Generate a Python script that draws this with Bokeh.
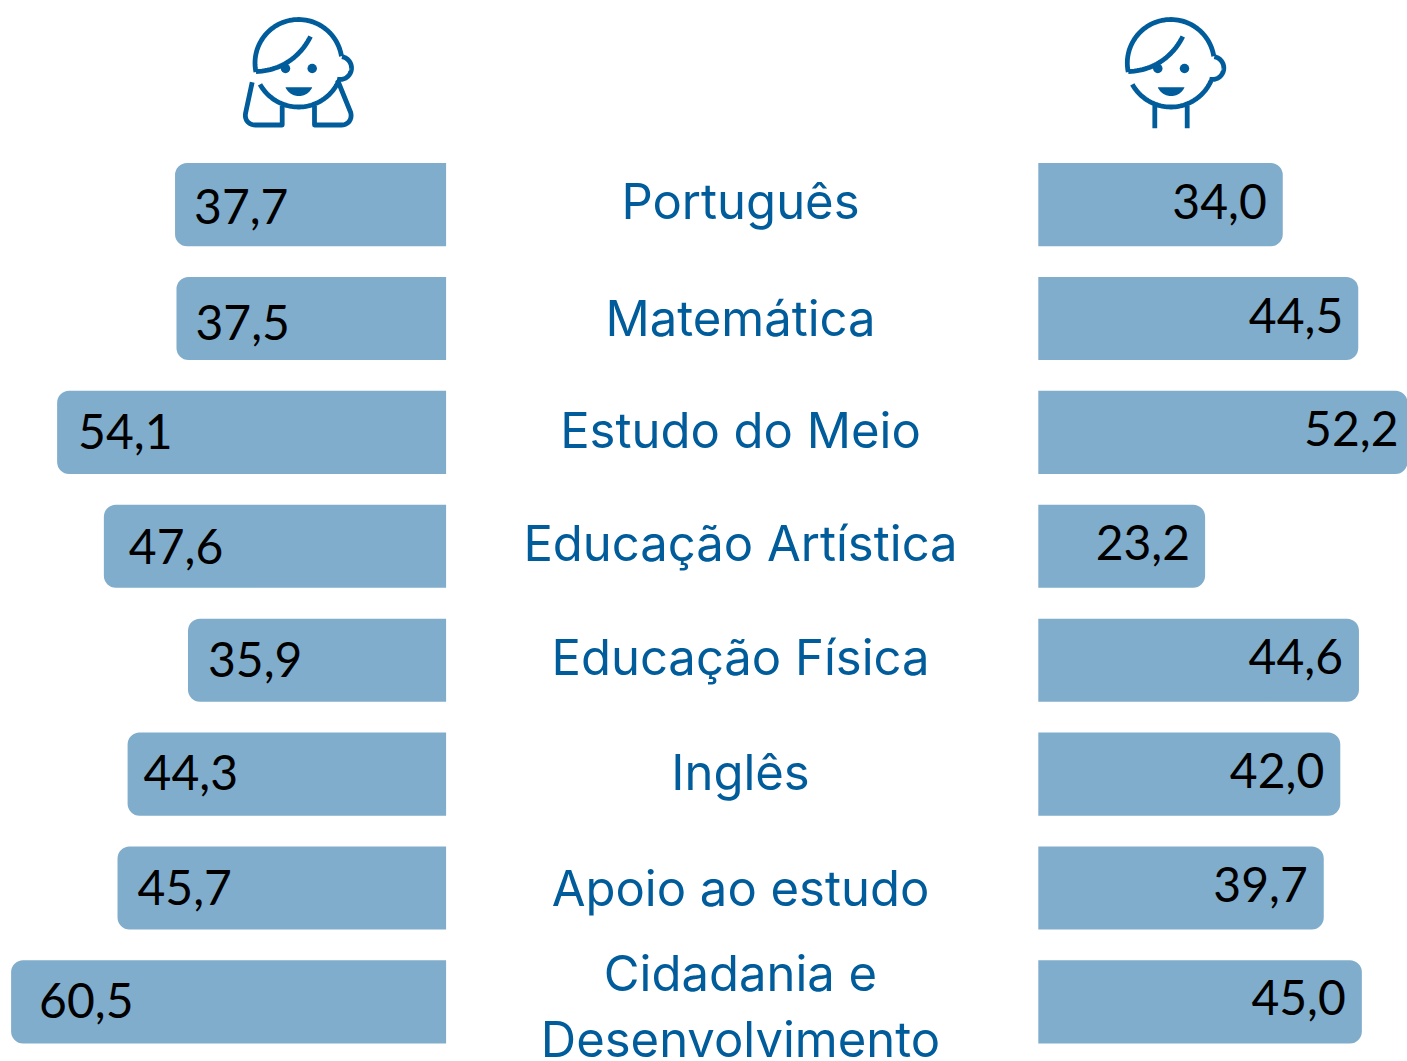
import numpy as np
from bokeh.plotting import figure
from bokeh.models import Range1d, ColumnDataSource
from bokeh.core.properties import value
from bokeh.embed import file_html
from bokeh.resources import INLINE

subjects = ["Português", "Matemática", "Estudo do Meio", "Educação Artística",
            "Educação Física", "Inglês", "Apoio ao estudo", "Cidadania e\nDesenvolvimento"]
girls = [37.7, 37.5, 54.1, 47.6, 35.9, 44.3, 45.7, 60.5]
boys = [34.0, 44.5, 52.2, 23.2, 44.6, 42.0, 39.7, 45.0]

# page geometry
W, H = 1407, 1061
ORIGIN = 0
BAR_COLOR = "#80ADCC"
BLUE = "#005C9A"
FONT = "Lato"
CAT_FONT = "Inter"
PX_PER_UNIT = 7.19
GIRL_ZERO, BOY_ZERO = 445.6, 1037.8
ROW0, ROW_STEP = 204.1, 113.9
BOY_DOMAIN_END = (1407 - BOY_ZERO) / PX_PER_UNIT
SHIFT = -18.5

p = figure(width=W, height=H, output_backend="svg", toolbar_location=None,
           x_range=Range1d(0, W), y_range=Range1d(H, 0),
           min_border=0, outline_line_color=None, background_fill_color="white")
p.xaxis.visible = False
p.yaxis.visible = False
p.grid.visible = False

p.extra_x_ranges = {
    "girls": Range1d((GIRL_ZERO - ORIGIN) / PX_PER_UNIT, (GIRL_ZERO - ORIGIN - W) / PX_PER_UNIT),
    "boys": Range1d((ORIGIN - BOY_ZERO) / PX_PER_UNIT, BOY_DOMAIN_END),
}
p.extra_y_ranges = {"rows": Range1d((ORIGIN + H - ROW0) / ROW_STEP, (ORIGIN - ROW0) / ROW_STEP)}

rows = list(range(len(subjects)))
girl_inset = [19, 19, 21, 25, 20, 16, 20, 28]
boy_inset = [16, 15, 9, 15, 16, 16, 16, 16]
girl_dy = [20, 22, 18, 19, 18, 17, 18, 17.5]
boy_dy = [15, 15, 15, 15, 14.5, 14.5, 14.5, 14]
cat_dy = [15, 18.5, 16.5, 15.5, 15.5, 16.5, 18.5]

gs = ColumnDataSource(dict(y=rows, v=girls, z=[0] * len(rows),
                           t=[f"{v:.1f}".replace(".", ",") for v in girls], dx=girl_inset,
                           dy=[d + SHIFT for d in girl_dy]))
bs = ColumnDataSource(dict(y=rows, v=[min(v, BOY_DOMAIN_END) for v in boys], z=[0] * len(rows),
                           t=[f"{v:.1f}".replace(".", ",") for v in boys], dx=[-d for d in boy_inset],
                           dy=[d + SHIFT for d in boy_dy]))

p.hbar(y="y", left="v", right="z", height=0.73, source=gs, x_range_name="girls", y_range_name="rows",
       fill_color=BAR_COLOR, line_color=None, border_radius=(12, 0, 0, 12))
p.hbar(y="y", left="z", right="v", height=0.73, source=bs, x_range_name="boys", y_range_name="rows",
       fill_color=BAR_COLOR, line_color=None, border_radius=(0, 12, 12, 0))

p.text(x="v", y="y", text="t", x_offset="dx", y_offset="dy", source=gs, x_range_name="girls", y_range_name="rows",
       text_font=value(FONT), text_font_size="48px", text_color="black", text_align="left", text_baseline="alphabetic")
p.text(x="v", y="y", text="t", x_offset="dx", y_offset="dy", source=bs, x_range_name="boys", y_range_name="rows",
       text_font=value(FONT), text_font_size="48px", text_color="black", text_align="right", text_baseline="alphabetic")

# category labels
cat_text, cat_y, cat_off = [], [], []
for i, s in enumerate(subjects):
    parts = s.split("\n")
    if len(parts) == 1:
        cat_text.append(s); cat_y.append(i); cat_off.append(cat_dy[i] + SHIFT)
    else:
        cat_text += parts; cat_y += [i, i]; cat_off += [-9.5 + SHIFT, 56.5 + SHIFT]
p.text(x=[740 - ORIGIN] * len(cat_text), y=cat_y, text=cat_text, y_offset=cat_off, y_range_name="rows",
       text_font=value(CAT_FONT), text_font_size="49px", text_color=BLUE, text_align="center", text_baseline="alphabetic")


# icons
def arc(cx, cy, r, a0, a1, n=60):
    a = np.radians(np.linspace(a0, a1, n))
    return cx + r * np.cos(a), cy + r * np.sin(a)


def bez(p0, p1, p2, p3, n=30):
    t = np.linspace(0, 1, n)[:, None]
    pts = (1 - t) ** 3 * np.array(p0) + 3 * (1 - t) ** 2 * t * np.array(p1) + 3 * (1 - t) * t ** 2 * np.array(p2) + t ** 3 * np.array(p3)
    return pts[:, 0], pts[:, 1]


def stroke(xs, ys, dx):
    p.line(np.asarray(xs) + dx - ORIGIN, np.asarray(ys) - ORIGIN, line_color=BLUE, line_width=4.8, line_join="round")


def face(dx):
    stroke(*arc(298, 62.5, 43.5, 168, 351), dx)        # hair / skull
    stroke(*bez((255.5, 71), (285, 70), (302, 52), (310, 36)), dx)  # fringe
    stroke(*arc(339.5, 67.5, 11.5, -80, 105), dx)      # ear
    stroke(*arc(298, 62.5, 44, 151, 24), dx)           # chin
    p.scatter([285 + dx - ORIGIN, 311.7 + dx - ORIGIN], [68 - ORIGIN] * 2, size=9.5,
              marker="circle", fill_color=BLUE, line_color=None)
    mx, my = bez((285, 86.7), (290, 98.5), (306.7, 98.5), (311.7, 86.7))
    p.patch(mx + dx - ORIGIN, my - ORIGIN, fill_color=BLUE, line_color=None)


face(0)
face(872.3)
# girl's hands
cx1, cy1 = bez((245.2, 112), (243.5, 119), (248, 124.5), (255, 124.5), 12)
stroke(np.r_[251.7, cx1, 281.7, 281.7], np.r_[81.7, cy1, 124.5, 105.5], 0)
cx2, cy2 = bez((350.2, 112), (352, 119), (347.5, 124.5), (341, 124.5), 12)
stroke(np.r_[337, cx2, 314, 314], np.r_[79.5, cy2, 124.5, 105.5], 0)
# boy's neck
stroke([1154.3, 1154.3], [105, 127.7], 0)
stroke([1186.7, 1186.7], [105, 127.7], 0)

open("out.html", "w").write(file_html(p, INLINE))
